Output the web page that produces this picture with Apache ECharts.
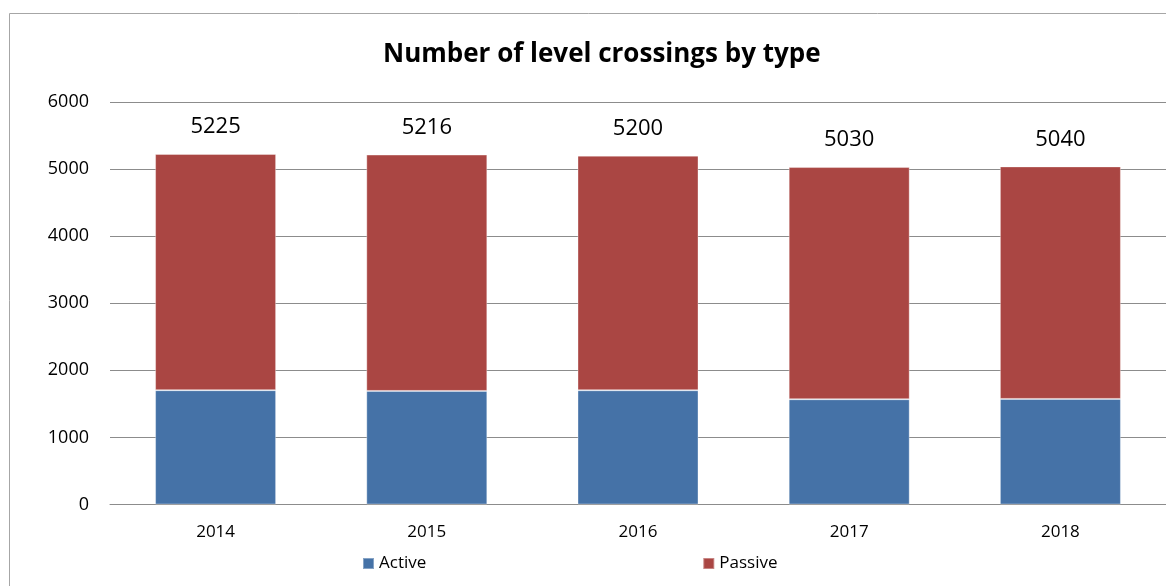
<!DOCTYPE html>
<html>
<head>
<meta charset="utf-8">
<script src="https://cdn.jsdelivr.net/npm/echarts@6/dist/echarts.min.js"></script>
<style>
  html, body { margin: 0; padding: 0; background: #fff; }
  #chart { width: 1166px; height: 586px; }
</style>
</head>
<body>
<div id="chart"></div>
<script>
// data
var years = ['2014', '2015', '2016', '2017', '2018'];
var active = [1704, 1693, 1703, 1569, 1574];
var passive = [3521, 3523, 3497, 3461, 3466];
var yTicks = [0, 1000, 2000, 3000, 4000, 5000, 6000];

var font = '"Open Sans", sans-serif';
var myChart = echarts.init(document.getElementById('chart'));

var option = {
  animation: false,
  color: ['#4572A7', '#AA4643'],
  title: {
    text: 'Number of level crossings by type',
    left: 378,
    top: 37,
    textStyle: { fontFamily: font, fontSize: 26, fontWeight: 'bold', color: '#000' }
  },
  graphic: [{
    type: 'rect',
    shape: { x: 9.5, y: 13.5, width: 1300, height: 700 },
    style: { fill: 'none', stroke: '#a6a6a6', lineWidth: 1 },
    silent: true
  }],
  legend: {
    left: 362,
    top: 555,
    padding: 0,
    itemWidth: 11,
    itemHeight: 11,
    itemGap: 276,
    icon: 'rect',
    textStyle: { fontFamily: font, fontSize: 17, color: '#000' },
    data: ['Active', 'Passive']
  },
  grid: { left: 110, width: 1064, top: 102, bottom: 81.5 },
  xAxis: {
    type: 'category',
    data: years,
    axisLine: { lineStyle: { color: '#8c8c8c' } },
    axisTick: { show: false },
    axisLabel: { fontFamily: font, fontSize: 17, color: '#000', margin: 19 }
  },
  yAxis: {
    type: 'value',
    min: yTicks[0],
    max: yTicks[yTicks.length - 1],
    interval: 1000,
    axisLine: { show: false },
    axisTick: { show: false },
    splitLine: { lineStyle: { color: '#8c8c8c' } },
    axisLabel: {
      fontFamily: font, fontSize: 18, color: '#000', margin: 21,
      formatter: function (v) { return String(v); }
    }
  },
  series: [
    {
      name: 'Active',
      type: 'bar',
      stack: 'total',
      barWidth: 121,
      data: active,
      itemStyle: { borderColor: 'rgba(255,255,255,0.35)', borderWidth: 1 }
    },
    {
      name: 'Passive',
      type: 'bar',
      stack: 'total',
      barWidth: 121,
      data: passive,
      itemStyle: { borderColor: 'rgba(255,255,255,0.35)', borderWidth: 1 },
      label: {
        show: true,
        position: 'top',
        distance: 16,
        fontFamily: font,
        fontSize: 22,
        color: '#000',
        formatter: function (p) { return active[p.dataIndex] + passive[p.dataIndex]; }
      }
    }
  ]
};

myChart.setOption(option);
</script>
</body>
</html>
